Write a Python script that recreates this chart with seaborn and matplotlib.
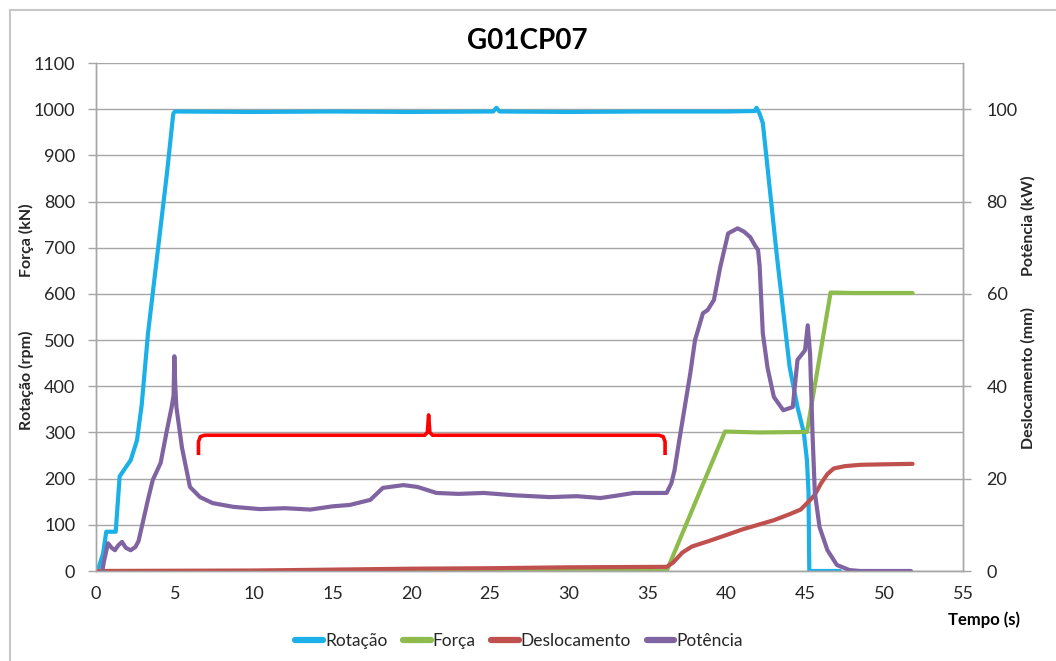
import matplotlib
matplotlib.use("Agg")
import matplotlib.pyplot as plt
import seaborn as sns
import pandas as pd
from matplotlib.lines import Line2D
from matplotlib.patches import Rectangle

# ---------------- dados ----------------
titulo = "G01CP07"

# Rotação (rpm) - eixo esquerdo
rot_t = [0.0, 0.1, 0.45, 0.65, 1.25, 1.5, 1.9, 2.2, 2.6, 2.9, 3.3, 3.9, 4.5, 4.9, 5.0,
         10.0, 15.0, 20.0, 25.2, 25.4, 25.6, 30.0, 35.0, 40.0, 41.8, 41.9, 42.1, 42.3,
         43.2, 44.0, 44.5, 44.9, 45.1, 45.2, 45.25, 47.2]
rot_v = [0, 0, 38, 85, 85, 205, 225, 240, 283, 360, 515, 688, 861, 990, 995,
         994, 995, 994, 995, 1003, 995, 994, 995, 995, 996, 1003, 990, 970,
         680, 442, 355, 300, 240, 170, 0, 0]

# Força (kN) - eixo esquerdo
forca_t = [0.0, 36.2, 39.9, 42.0, 45.1, 46.6, 48.0, 51.8]
forca_v = [0, 0, 302, 300, 301, 603, 602, 602]

# Deslocamento (mm) - eixo direito
desl_t = [0.0, 10.0, 15.0, 20.0, 25.0, 30.0, 36.2, 36.6, 37.2, 37.8, 38.8, 40.0, 41.0,
          42.0, 43.0, 44.0, 44.7, 45.2, 45.6, 46.0, 46.4, 46.8, 47.5, 48.5, 50.0, 51.8]
desl_v = [0.0, 0.1, 0.3, 0.5, 0.6, 0.8, 0.9, 1.8, 4.0, 5.3, 6.4, 7.8, 9.0,
          10.0, 11.0, 12.3, 13.3, 15.0, 16.5, 19.0, 21.0, 22.2, 22.7, 23.0, 23.1, 23.2]

# Potência (kW) - eixo direito
pot_t = [0.4, 0.5, 0.76, 1.0, 1.2, 1.4, 1.65, 1.9, 2.2, 2.5, 2.7, 3.0, 3.3, 3.6, 4.1,
         4.5, 4.8, 4.92, 4.97, 5.03, 5.1, 5.45, 5.96, 6.6, 7.4, 8.7, 10.4, 12.0, 13.6,
         15.0, 16.1, 17.4, 18.2, 19.5, 20.4, 21.6, 23.0, 24.6, 26.5, 28.8, 30.5, 32.0,
         33.0, 34.1, 35.2, 36.2, 36.5, 36.7, 37.0, 37.7, 38.0, 38.5, 38.8, 39.2, 39.6,
         40.1, 40.7, 41.1, 41.5, 41.8, 42.0, 42.1, 42.3, 42.6, 43.0, 43.6, 44.2, 44.5,
         44.98, 45.15, 45.3, 45.45, 45.6, 45.9, 46.4, 47.0, 47.8, 48.5, 51.7]
pot_v = [0.0, 2.0, 6.0, 5.0, 4.5, 5.5, 6.3, 5.0, 4.5, 5.2, 6.5, 11.0, 15.5, 19.7, 23.4,
         30.5, 35.5, 38.0, 46.5, 40.0, 35.5, 26.8, 18.2, 16.0, 14.7, 13.9, 13.4, 13.6, 13.3,
         14.0, 14.3, 15.4, 18.0, 18.6, 18.2, 16.9, 16.7, 16.9, 16.4, 16.0, 16.2, 15.8,
         16.3, 16.9, 16.9, 16.9, 19.0, 21.8, 28.3, 42.8, 50.0, 55.8, 56.5, 58.7, 65.8,
         73.1, 74.2, 73.5, 72.3, 70.5, 69.5, 66.0, 51.5, 44.0, 37.7, 34.8, 35.5, 45.7,
         47.8, 53.2, 47.0, 30.0, 17.0, 9.5, 4.5, 1.3, 0.2, 0.0, 0.0]

# chave vermelha (anotação)
chave_t = [6.5, 6.5, 6.62, 6.9, 20.85, 21.02, 21.1, 21.18, 21.35, 35.7, 35.98, 36.1, 36.1]
chave_v = [251, 280, 291, 294, 294, 300, 338, 300, 294, 294, 291, 280, 251]

series = ["Rotação", "Força", "Deslocamento", "Potência"]
cores = ["#1CB0E8", "#8DBB4C", "#C0504D", "#8064A2"]

# ---------------- estilo ----------------
sns.set_theme(style="white")
plt.rcParams["font.family"] = ["Lato", "DejaVu Sans"]
cinza = "#A6A6A6"
texto = "#262626"

fig = plt.figure(figsize=(10.56, 6.61), dpi=100)
ax = fig.add_axes([96 / 1056, 1 - 571 / 661, (963 - 96) / 1056, (571 - 63) / 661])
ax2 = ax.twinx()

df_rot = pd.DataFrame({"t": rot_t, "v": rot_v})
df_forca = pd.DataFrame({"t": forca_t, "v": forca_v})
df_desl = pd.DataFrame({"t": desl_t, "v": desl_v})
df_pot = pd.DataFrame({"t": pot_t, "v": pot_v})

lw = 3.0
sns.lineplot(data=df_rot, x="t", y="v", ax=ax, color=cores[0], lw=lw, estimator=None, sort=False)
sns.lineplot(data=df_forca, x="t", y="v", ax=ax, color=cores[1], lw=lw, estimator=None, sort=False)
ax.plot(chave_t, chave_v, color="#FF0000", lw=2.6, solid_capstyle="butt", solid_joinstyle="round")
sns.lineplot(data=df_desl, x="t", y="v", ax=ax2, color=cores[2], lw=lw, estimator=None, sort=False)
sns.lineplot(data=df_pot, x="t", y="v", ax=ax2, color=cores[3], lw=lw, estimator=None, sort=False)

# ---------------- eixos ----------------
ax.set_xlim(0, 55)
ax.set_ylim(0, 1100)
ax2.set_ylim(0, 110)
ax.set_xticks(range(0, 56, 5))
ax.set_yticks(range(0, 1101, 100))
ax2.set_yticks(range(0, 101, 20))
ax.set_xlabel("")
ax.set_ylabel("")
ax2.set_ylabel("")

ax.yaxis.grid(True, color=cinza, lw=1)
ax.xaxis.grid(False)
ax2.grid(False)

for a in (ax, ax2):
    for s in a.spines.values():
        s.set_color(cinza)
        s.set_linewidth(1)
    a.spines["top"].set_visible(False)
    a.tick_params(axis="both", direction="out", length=6, width=1, color=cinza,
                  labelsize=13, labelcolor=texto)
ax.tick_params(axis="y", pad=9)
ax.tick_params(axis="x", pad=5)
ax2.tick_params(axis="y", pad=11)

# ---------------- textos ----------------
fig.text(527 / 1056, 1 - 41 / 661, titulo, ha="center", va="center",
         fontsize=20, fontweight="bold", color="#000000")
fig.text(26 / 1056, 1 - 240 / 661, "Força (kN)", rotation=90, ha="center", va="center",
         fontsize=11.5, fontweight="bold", color=texto)
fig.text(26 / 1056, 1 - 380 / 661, "Rotação (rpm)", rotation=90, ha="center", va="center",
         fontsize=11.5, fontweight="bold", color=texto)
fig.text(1028 / 1056, 1 - 226 / 661, "Potência (kW)", rotation=90, ha="center", va="center",
         fontsize=11.5, fontweight="bold", color=texto)
fig.text(1028 / 1056, 1 - 378 / 661, "Deslocamento (mm)", rotation=90, ha="center", va="center",
         fontsize=11.5, fontweight="bold", color=texto)
fig.text(984 / 1056, 1 - 620 / 661, "Tempo (s)", ha="center", va="center",
         fontsize=12, fontweight="bold", color="#000000")

handles = [Line2D([], [], color=c, lw=4.5) for c in cores]
fig.legend(handles, series, loc="center", bbox_to_anchor=(519 / 1056, 1 - 641 / 661),
           ncol=4, frameon=False, handlelength=1.6, handletextpad=0.1,
           columnspacing=0.9, fontsize=12.5, labelcolor=texto)

# moldura externa
fig.patches.append(Rectangle((10 / 1056, -0.1), 1.2, (661 - 10) / 661 + 0.1,
                             transform=fig.transFigure, fill=False, ec="#C8C8C8", lw=1.5))

fig.savefig("out.png", dpi=100)
